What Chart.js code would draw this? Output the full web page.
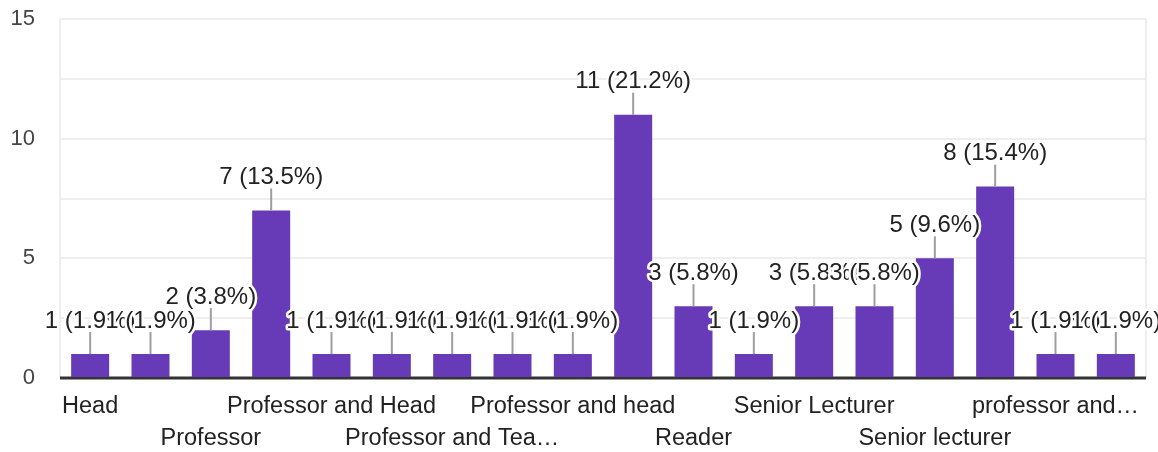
<!DOCTYPE html>
<html>
<head>
<meta charset="utf-8">
<script src="https://cdn.jsdelivr.net/npm/chart.js@4"></script>
<style>
  html, body { margin: 0; padding: 0; background: #fff; }
  #wrap { width: 1158px; height: 452px; }
</style>
</head>
<body>
<div id="wrap"><canvas id="chart" width="1158" height="452"></canvas></div>
<script>
const categories = [
  "Head", "Head of Department", "Professor", "Professor & Head",
  "Professor and Head", "Professor and Principal", "Professor and Teacher in Charge",
  "Professor and Vice Principal", "Professor and head", "Professor, Head",
  "Reader", "Research Scholar", "Senior Lecturer", "Senior Professor",
  "Senior lecturer", "assistant professor", "professor and head of department",
  "professor and principal"
];
const counts = [1, 1, 2, 7, 1, 1, 1, 1, 1, 11, 3, 1, 3, 3, 5, 8, 1, 1];
// labels that fit under the axis (every other category, staggered in two rows)
const tickLabels = [
  "Head", "", "Professor", "", "Professor and Head", "", "Professor and Tea…", "",
  "Professor and head", "", "Reader", "", "Senior Lecturer", "", "Senior lecturer", "",
  "professor and…", ""
];
const yTicks = [0, 5, 10, 15];

const total = counts.reduce((a, b) => a + b, 0);
const FONT = "'Liberation Sans', Arial, sans-serif";

const barLabels = {
  id: "barLabels",
  afterDatasetsDraw(chart) {
    const ctx = chart.ctx;
    const meta = chart.getDatasetMeta(0);
    ctx.save();
    ctx.font = "24px " + FONT;
    ctx.textAlign = "center";
    ctx.textBaseline = "middle";
    ctx.lineJoin = "round";
    meta.data.forEach((bar, i) => {
      const v = counts[i];
      const txt = v + " (" + (v / total * 100).toFixed(1) + "%)";
      ctx.strokeStyle = "#9e9e9e";
      ctx.lineWidth = 2;
      ctx.beginPath();
      ctx.moveTo(bar.x, bar.y);
      ctx.lineTo(bar.x, bar.y - 22);
      ctx.stroke();
      ctx.strokeStyle = "#fff";
      ctx.lineWidth = 5;
      ctx.strokeText(txt, bar.x, bar.y - 33);
      ctx.fillStyle = "#222";
      ctx.fillText(txt, bar.x, bar.y - 33);
    });
    ctx.restore();
  }
};

const frame = {
  id: "frame",
  beforeDatasetsDraw(chart) {
    const { ctx, chartArea: a } = chart;
    ctx.save();
    ctx.strokeStyle = "#eeeeee";
    ctx.lineWidth = 2;
    ctx.beginPath();
    ctx.moveTo(a.left, a.top);
    ctx.lineTo(a.left, a.bottom);
    ctx.moveTo(a.right, a.top);
    ctx.lineTo(a.right, a.bottom);
    ctx.stroke();
    ctx.strokeStyle = "#333";
    ctx.lineWidth = 3;
    ctx.beginPath();
    ctx.moveTo(a.left, a.bottom);
    ctx.lineTo(a.right, a.bottom);
    ctx.stroke();
    ctx.restore();
  }
};

new Chart(document.getElementById("chart").getContext("2d"), {
  type: "bar",
  data: {
    labels: categories,
    datasets: [{
      data: counts,
      backgroundColor: "#673ab7",
      categoryPercentage: 1,
      barPercentage: 0.63
    }]
  },
  options: {
    responsive: false,
    animation: false,
    layout: { padding: { top: 19, right: 12, left: 0, bottom: 0 } },
    plugins: { legend: { display: false }, tooltip: { enabled: false } },
    scales: {
      x: {
        afterFit: (s) => { s.height = 74; },
        grid: { display: false, drawTicks: false },
        border: { display: false },
        ticks: {
          autoSkip: false,
          maxRotation: 0,
          padding: 13,
          color: "#222",
          font: { family: FONT, size: 23.5, lineHeight: "32px" },
          callback: (val, i) => {
            const t = tickLabels[i];
            if (!t) return "";
            return (i % 4 === 0) ? [t, ""] : ["", t];
          }
        }
      },
      y: {
        min: 0,
        max: 15,
        afterFit: (s) => { s.width = 60; s.paddingTop = 0; s.paddingBottom = 0; },
        border: { display: false },
        grid: { color: "#eeeeee", lineWidth: 2, drawTicks: false },
        ticks: {
          stepSize: 2.5,
          padding: 25,
          color: "#444",
          font: { family: FONT, size: 22 },
          callback: (v) => yTicks.includes(v) ? String(v) : ""
        }
      }
    }
  },
  plugins: [frame, barLabels]
});
</script>
</body>
</html>
